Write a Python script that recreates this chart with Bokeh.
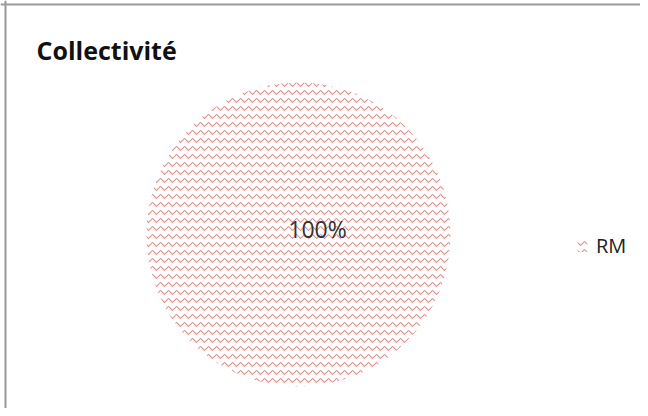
import math
from bokeh.plotting import figure
from bokeh.models import ColumnDataSource, Range1d, Span, Legend, LegendItem
from bokeh.core.properties import value
from bokeh.embed import file_html
from bokeh.resources import INLINE

title_text = "Collectivité"
categories = ["RM"]
values = [100]

total = sum(values)
starts, ends, labels = [], [], []
acc = 0.0
for v in values:
    starts.append(2 * math.pi * acc / total)
    acc += v
    ends.append(2 * math.pi * acc / total)
    labels.append(f"{round(100 * v / total)}%")

W, H = 640, 408
cx, cy, r = 298, 174, 152

src = ColumnDataSource(dict(cat=categories, val=values, start=starts, end=ends,
                            label=labels,
                            x=[cx] * len(values), y=[cy] * len(values),
                            lx=[cx + 19] * len(values), ly=[cy + 6] * len(values)))

p = figure(width=W, height=H, output_backend="svg", toolbar_location=None,
           x_range=Range1d(0, W), y_range=Range1d(0, H), min_border=0,
           background_fill_color="white", border_fill_color="white")
p.axis.visible = False
p.grid.visible = False
p.outline_line_color = None

w = p.wedge(x="x", y="y", radius=r, radius_units="screen", start_angle="start", end_angle="end",
            source=src, fill_color=None, line_color=None,
            hatch_pattern="horizontal_wave", hatch_color="#e29494", hatch_scale=8, hatch_weight=1.1)

p.text(x="lx", y="ly", text="label", source=src, text_align="center", text_baseline="middle",
       text_font=value("Open Sans"), text_font_size="23px", text_color="#333333")

p.text(x=[36], y=[359], text=[title_text], text_font=value("Open Sans"), text_font_size="25px",
       text_font_style="bold", text_color="#111111", text_baseline="alphabetic")

p.add_layout(Span(location=404, dimension="width", line_color="#9a9a9a", line_width=2))
p.add_layout(Span(location=5, dimension="height", line_color="#9a9a9a", line_width=2))

legend = Legend(items=[LegendItem(label=categories[0], renderers=[w])],
                location=(576, 149), margin=0, padding=0, border_line_color=None,
                background_fill_alpha=0, glyph_width=12, glyph_height=14,
                label_standoff=8, label_text_font="Open Sans",
                label_text_font_size="20px", label_text_color="#222222")
p.add_layout(legend)

open("out.html", "w").write(file_html(p, INLINE))
